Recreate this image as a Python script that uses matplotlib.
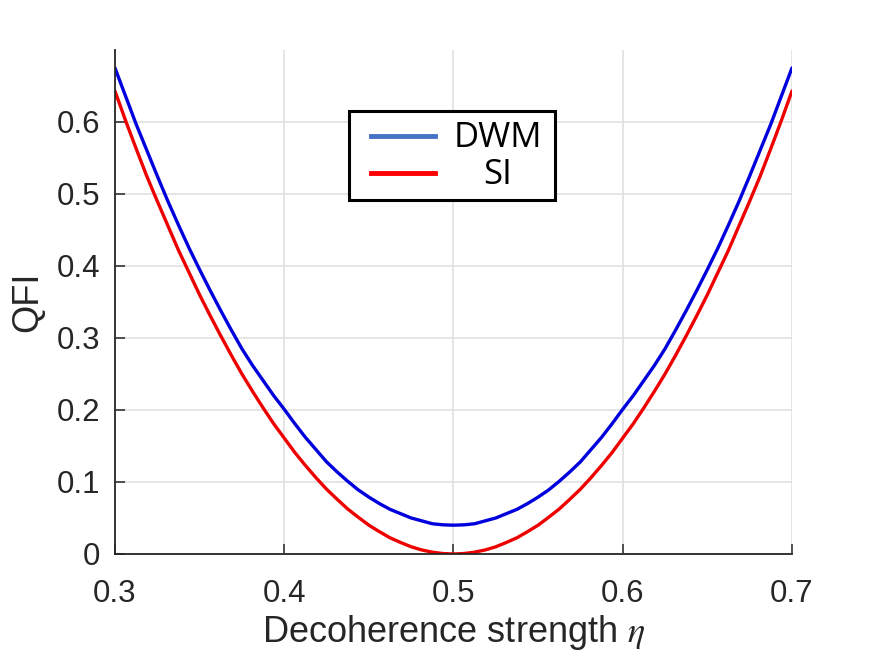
import matplotlib
matplotlib.use("Agg")
import matplotlib.pyplot as plt
import numpy as np
from matplotlib.lines import Line2D
from matplotlib.patches import Rectangle

# the curves are symmetric about eta = 0.5
dwm_left = [0.675, 0.636, 0.597, 0.561, 0.525, 0.490, 0.457, 0.425, 0.395,
            0.366, 0.338, 0.311, 0.285, 0.262, 0.241, 0.220, 0.201, 0.181,
            0.162, 0.145, 0.128, 0.114, 0.101, 0.089, 0.079, 0.070, 0.062,
            0.056, 0.050, 0.046, 0.042, 0.0405, 0.040]
si_left = [0.643, 0.602, 0.563, 0.525, 0.490, 0.456, 0.422, 0.391, 0.360,
           0.331, 0.303, 0.276, 0.250, 0.226, 0.203, 0.181, 0.161, 0.141,
           0.123, 0.106, 0.090, 0.076, 0.0625, 0.051, 0.040, 0.031, 0.0225,
           0.016, 0.010, 0.0056, 0.0025, 0.0006, 0.0]

qfi_dwm = dwm_left + dwm_left[-2::-1]
qfi_si = si_left + si_left[-2::-1]
eta = np.linspace(0.3, 0.7, len(qfi_dwm))

xticks = [0.3, 0.4, 0.5, 0.6, 0.7]
yticks = [0, 0.1, 0.2, 0.3, 0.4, 0.5, 0.6]
legend_names = ["DWM", "SI"]

plt.rcParams["font.family"] = ["Liberation Sans", "DejaVu Sans"]
plt.rcParams["mathtext.fontset"] = "stix"

fig = plt.figure(figsize=(8.75, 6.57), dpi=100)
ax = fig.add_axes([0.1314, 0.1568, 0.7737, 0.7671])

ax.plot(eta, qfi_dwm, color="#0000dd", lw=2.4, solid_capstyle="round")
ax.plot(eta, qfi_si, color="#ee0000", lw=2.4, solid_capstyle="round")

ax.set_xlim(0.3, 0.7)
ax.set_ylim(0, 0.7)
ax.set_xticks(xticks)
ax.set_xticklabels([str(t) for t in xticks])
ax.set_yticks(yticks)
ax.set_yticklabels([("0" if t == 0 else str(t)) for t in yticks])
ax.grid(True, color="#dedede", lw=1.1)
ax.set_axisbelow(True)
for s in ["top", "right"]:
    ax.spines[s].set_visible(False)
for s in ["left", "bottom"]:
    ax.spines[s].set_color("#262626")
    ax.spines[s].set_linewidth(1.3)
ax.tick_params(direction="in", length=7, width=1.1, colors="#262626",
               labelsize=22.5, labelcolor="#262626")
ax.tick_params(axis="x", pad=18)
ax.tick_params(axis="y", pad=10.5)

ax.set_xlabel(r"Decoherence strength $\eta$", fontsize=26, color="#262626", labelpad=3)
ax.set_ylabel("QFI", fontsize=26, color="#262626", labelpad=8)

# legend box drawn on top (pasted-on style)
W, H = 875.0, 657.0
fig.add_artist(Rectangle((349 / W, 1 - 200 / H), (555 - 349) / W, (200 - 111) / H,
                         transform=fig.transFigure, facecolor="white",
                         edgecolor="black", lw=2.2, zorder=5))
leg_colors = ["#4472c4", "#ff0000"]
leg_y = [136, 173]
for name, c, yy in zip(legend_names, leg_colors, leg_y):
    fig.add_artist(Line2D([371 / W, 435 / W], [1 - yy / H, 1 - yy / H],
                          transform=fig.transFigure, color=c, lw=3.5, zorder=6))
    fig.text(498 / W, 1 - (yy + 2) / H, name, ha="center", va="center",
             fontsize=25, family=["Open Sans", "DejaVu Sans"], zorder=7)

fig.savefig("out.png", dpi=100)
